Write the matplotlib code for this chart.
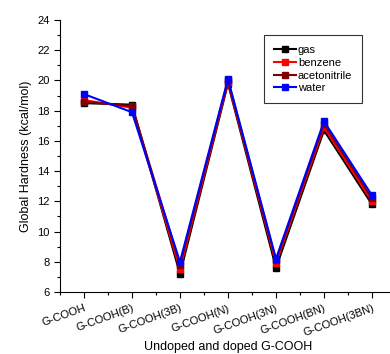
import matplotlib.pyplot as plt
from matplotlib.ticker import MultipleLocator, AutoMinorLocator

plt.rcParams["font.family"] = ["Liberation Sans", "DejaVu Sans"]

categories = ["G-COOH", "G-COOH(B)", "G-COOH(3B)", "G-COOH(N)",
              "G-COOH(3N)", "G-COOH(BN)", "G-COOH(3BN)"]
gas = [18.5, 18.4, 7.2, 19.8, 7.6, 16.7, 11.8]
benzene = [18.7, 18.2, 7.5, 19.9, 7.9, 16.9, 12.0]
acetonitrile = [18.6, 18.3, 7.8, 20.0, 8.1, 17.1, 12.2]
water = [19.1, 17.9, 8.0, 20.1, 8.2, 17.3, 12.4]

series = [
    ("gas", gas, "#000000"),
    ("benzene", benzene, "#ff0000"),
    ("acetonitrile", acetonitrile, "#800000"),
    ("water", water, "#0000ff"),
]

fig = plt.figure(figsize=(3.9, 3.54), dpi=100)
ax = fig.add_axes([0.1538, 0.175, 0.8615, 0.7684])

x = list(range(len(categories)))
for name, vals, color in series:
    ax.plot(x, vals, color=color, marker="s", markersize=5, linewidth=1.5, label=name)

ax.set_xlim(-0.5, 6.5)
ax.set_ylim(6, 24)
ax.yaxis.set_major_locator(MultipleLocator(2))
ax.yaxis.set_minor_locator(AutoMinorLocator(2))
ax.set_xticks(x)
ax.set_xticks([i + 0.5 for i in range(-1, 7)], minor=True)
ax.set_xticklabels(categories, rotation=20, ha="right", rotation_mode="anchor", fontsize=8)
ax.tick_params(axis="y", labelsize=8, direction="out", length=4, width=0.8)
ax.tick_params(axis="x", direction="out", length=4, width=0.8, pad=4)
ax.tick_params(which="minor", direction="out", length=2.5, width=0.8)

ax.spines["top"].set_visible(False)
ax.spines["right"].set_visible(False)

ax.set_xlabel("Undoped and doped G-COOH", fontsize=9, labelpad=2)
ax.set_ylabel("Global Hardness (kcal/mol)", fontsize=9)

leg = ax.legend(loc="upper right", bbox_to_anchor=(0.9, 0.945), fontsize=8,
                fancybox=False, edgecolor="black", handlelength=2.0,
                handletextpad=0.2, labelspacing=0.25, borderpad=0.9,
                borderaxespad=0)
leg.get_frame().set_linewidth(0.8)

fig.savefig("out.png", dpi=100)
